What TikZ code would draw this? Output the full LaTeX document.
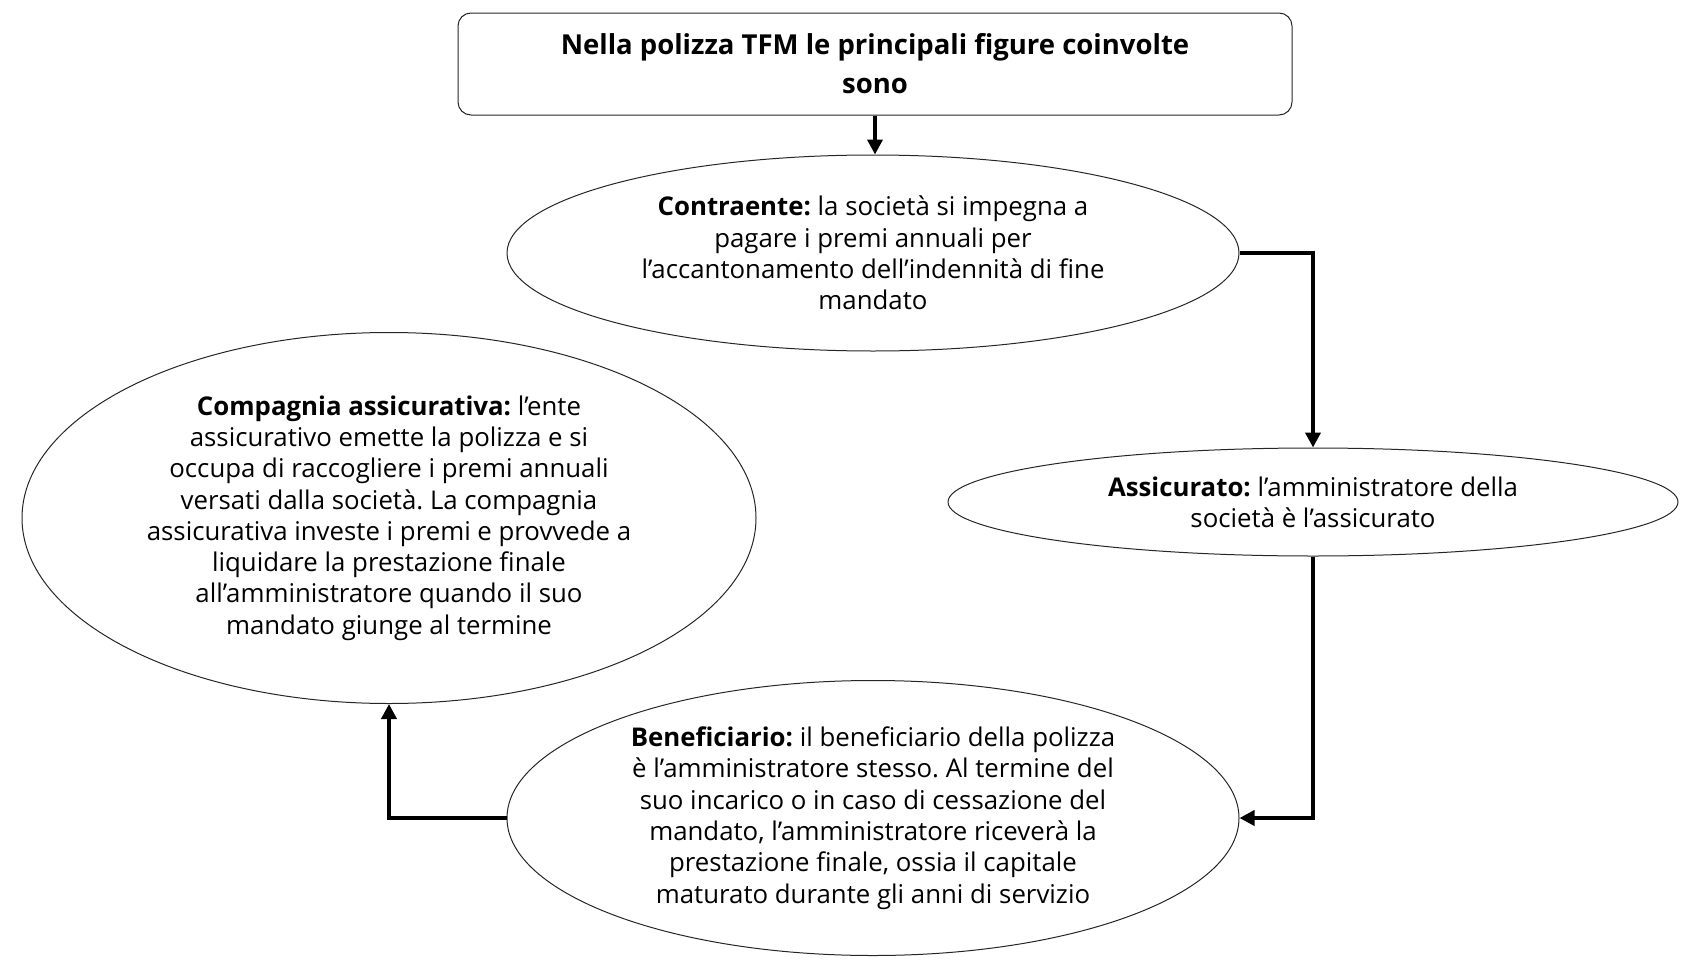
\documentclass[tikz,border=0pt]{standalone}
\usepackage{fontspec}
\setmainfont{Open Sans}
\usetikzlibrary{shapes.geometric,arrows.meta}
\frenchspacing
\begin{document}
\begin{tikzpicture}[x=1pt,y=-1pt,
  ell/.style={ellipse,draw=black!85,line width=1pt,inner sep=0pt,align=center,
    font=\fontsize{25.8}{31.3}\selectfont},
  titlebox/.style={draw=black!85,line width=1pt,rounded corners=13pt,align=center,
    minimum width=834pt,minimum height=102pt,inner sep=0pt,
    font=\fontsize{27.5}{39}\selectfont\bfseries},
  conn/.style={line width=4pt,-{Triangle[width=15pt,length=15pt]}}]
\useasboundingbox (0,0) rectangle (1703,977);
\node[titlebox] (t) at (875,64) {Nella polizza TFM le principali figure coinvolte\\sono};
\node[ell,minimum width=732pt,minimum height=196pt] (c) at (873,253)
  {\textbf{Contraente:} la società si impegna a\\pagare i premi annuali per\\l’accantonamento dell’indennità di fine\\mandato};
\node[ell,minimum width=730pt,minimum height=108pt] (a) at (1313,502)
  {\textbf{Assicurato:} l’amministratore della\\società è l’assicurato};
\node[ell,minimum width=734pt,minimum height=371pt] (k) at (389,518)
  {\textbf{Compagnia assicurativa:} l’ente\\assicurativo emette la polizza e si\\occupa di raccogliere i premi annuali\\versati dalla società. La compagnia\\assicurativa investe i premi e provvede a\\liquidare la prestazione finale\\all’amministratore quando il suo\\mandato giunge al termine};
\node[ell,minimum width=732pt,minimum height=275pt] (b) at (873,818)
  {\textbf{Beneficiario:} il beneficiario della polizza\\è l’amministratore stesso. Al termine del\\suo incarico o in caso di cessazione del\\mandato, l’amministratore riceverà la\\prestazione finale, ossia il capitale\\maturato durante gli anni di servizio};
\draw[conn] (t.south) -- (t.south |- c.north);
\draw[conn] (c.east) -| (a.north);
\draw[conn] (a.south) |- (b.east);
\draw[conn] (b.west) -| (k.south);
\end{tikzpicture}
\end{document}
